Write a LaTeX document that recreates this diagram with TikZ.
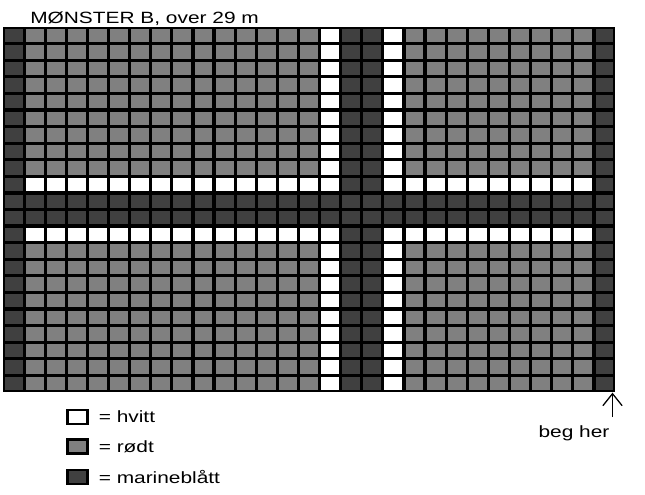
\documentclass[tikz,border=0pt]{standalone}
\usepackage{fontspec}
\setmainfont{Liberation Sans}[FakeStretch=1.28]
\usepackage{tikz}
\usetikzlibrary{positioning,arrows.meta}
\definecolor{cell0}{gray}{1}
\definecolor{cell1}{gray}{0.5}
\definecolor{cell2}{gray}{0.25}

\begin{document}
\begin{tikzpicture}[
    x=0.025cm, y=-0.025cm,
    every node/.style={font=\fontsize{11.6}{14}\selectfont},
    key/.style={rectangle, draw=black, line width=2pt, minimum width=0.5cm, minimum height=0.35cm, inner sep=0pt},
    keytext/.style={right=0.24cm of #1, inner sep=0pt},
    arrow/.style={-{Straight Barb[length=0.3cm, width=0.48cm]}, line width=0.9pt}
]
    \useasboundingbox (0,0) rectangle (645,494);

    % Title
    \node[anchor=base west, inner sep=0pt] (title) at (30,23.3) {MØNSTER B, over 29 m};

    % Grid
    \node[fill=black, minimum width=15.3cm, minimum height=9.125cm, inner sep=0pt, anchor=north west] (grid) at (3,27) {};
    \def\cw{21.1034}
    \def\ch{16.5909}
    \def\ins{1.6}
    \foreach \c in {0,...,28} {
        \foreach \r in {0,...,21} {
            \pgfmathtruncatemacro\kind{(\c==0 || \c==28 || \c==16 || \c==17 || \r==10 || \r==11) ? 2 : ((\c==15 || \c==18 || \r==9 || \r==12) ? 0 : 1)}
            \fill[cell\kind] ({3+\c*\cw+\ins},{27+\r*\ch+\ins}) rectangle ++({\cw-2*\ins},{\ch-2*\ins});
        }
    }

    % Start
    \coordinate (start) at (612.5,417);
    \draw[arrow] (start) -- (start |- grid.south);
    \node[anchor=base, inner sep=0pt] (beg) at (574,437) {beg her};

    % Legend
    \node[key, fill=cell0] (white) at (77.5,417) {};
    \node[key, fill=cell1] (red) at (77.5,446.5) {};
    \node[key, fill=cell2] (navy) at (77.5,477) {};
    \node[keytext=white] (whitetext) {= hvitt};
    \node[keytext=red] (redtext) {= rødt};
    \node[keytext=navy] (navytext) {= marineblått};
\end{tikzpicture}
\end{document}
